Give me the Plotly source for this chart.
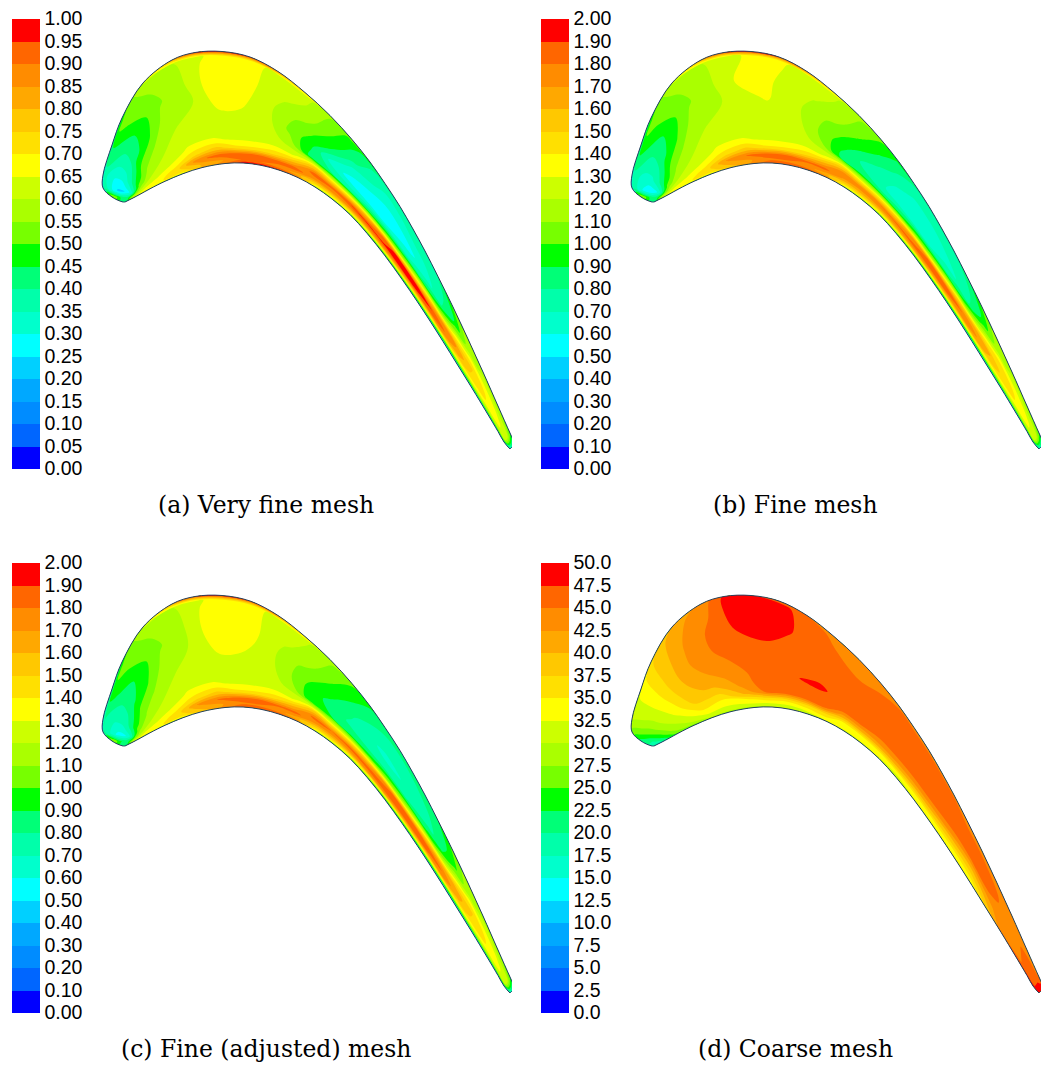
import plotly.graph_objects as go

# blade outline (points on each surface, per station)
UPPER_X = [123,112,103,103,112,122,143,172,195,222,250,278,305,330,352,370,385,400,413,425,438,453,468,483,498,510,515]
UPPER_Y = [202,197,188,175,145,118,83,60,52.5,51.5,57,71.5,92.5,115.5,139.5,162,183.5,206.5,229,251,276.5,307,339,372,406,433,444]
LOWER_X = [125,133,140,150,165,183,202,225,243,261,280,298,315,332,350,367,385,402,417,430,443,457,472,487,498,504,510]
LOWER_Y = [202,198,194.3,188.8,181.3,173.7,167.6,163.5,163,165.3,170.4,177.6,187,199,214.6,233.3,255.8,279.3,301.2,321,341.5,364,388.2,413,431.5,442,449]
# fractions across the passage, pressure side (0) to suction side (1)
ACROSS = [0,.03,.08,.14,.22,.32,.45,.6,.75,.96,1]

COLORS = ["#0000FF","#0066FF","#008CFF","#00A8FF","#00D0FF","#00FFFF","#00FFCC","#00FFAA","#00FF77","#00FF00",
          "#77FF00","#AAFF00","#CCFF00","#FFFF00","#FFE000","#FFC800","#FFA800","#FF8C00","#FF6600","#FF0000"]

VALUES_A = [
 [.4]*11,
 [.5,.6,.55,.5,.45,.42,.42,.45,.5,.55,.4],
 [.55,.66,.6,.5,.35,.28,.24,.24,.3,.4,.3],
 [.6,.7,.66,.6,.52,.44,.36,.3,.3,.37,.3],
 [.6,.7,.68,.64,.6,.56,.5,.42,.4,.46,.38],
 [.62,.72,.74,.68,.62,.6,.56,.48,.46,.53,.45],
 [.8,.8,.88,.74,.66,.62,.6,.58,.54,.56,.62],
 [.9,.85,.93,.78,.66,.62,.61,.6,.6,.6,.85],
 [.98,.9,.93,.72,.64,.62,.645,.67,.67,.64,.98],
 [.98,.9,.94,.72,.64,.62,.64,.67,.68,.68,1],
 [.96,.88,.92,.74,.65,.62,.62,.63,.65,.67,.98],
 [.9,.82,.93,.8,.63,.57,.54,.57,.61,.63,.9],
 [.6,.72,.85,.93,.75,.42,.47,.52,.58,.62,.75],
 [.55,.7,.85,.92,.7,.4,.33,.45,.5,.55,.6],
 [.5,.68,.85,.95,.72,.38,.28,.33,.42,.48,.55],
 [.45,.62,.85,.96,.8,.45,.27,.3,.36,.42,.5],
 [.4,.58,.85,.96,.92,.52,.3,.26,.32,.38,.45],
 [.36,.55,.8,.96,.98,.58,.33,.27,.32,.38,.42],
 [.33,.5,.75,.94,1,.68,.38,.3,.34,.38,.42],
 [.3,.46,.7,.9,.96,.78,.45,.33,.35,.38,.42],
 [.28,.42,.64,.85,.92,.85,.55,.38,.38,.4,.44],
 [.28,.4,.6,.72,.82,.86,.72,.55,.45,.5,.52],
 [.28,.4,.58,.66,.72,.75,.76,.68,.58,.58,.55],
 [.28,.38,.55,.62,.67,.7,.7,.68,.62,.58,.5],
 [.3,.38,.52,.6,.64,.66,.66,.64,.6,.56,.48],
 [.3,.35,.45,.55,.6,.62,.62,.6,.55,.5,.45],
 [.35]*11,
]
VALUES_B = [
 [.8]*11,
 [1.0,1.2,1.1,1.0,.9,.85,.85,.9,1.0,1.1,.8],
 [1.1,1.32,1.2,1.0,.74,.6,.52,.52,.62,.8,.6],
 [1.2,1.4,1.32,1.2,1.06,.9,.76,.66,.66,.76,.6],
 [1.2,1.4,1.36,1.28,1.2,1.12,1.0,.86,.82,.96,.8],
 [1.24,1.44,1.46,1.36,1.24,1.2,1.12,.98,.92,1.06,.9],
 [1.5,1.6,1.7,1.46,1.32,1.24,1.2,1.16,1.08,1.12,1.24],
 [1.75,1.7,1.82,1.54,1.32,1.24,1.22,1.2,1.2,1.2,1.7],
 [1.9,1.78,1.84,1.44,1.28,1.24,1.25,1.28,1.31,1.26,1.9],
 [1.9,1.78,1.86,1.44,1.28,1.24,1.26,1.31,1.33,1.33,2],
 [1.86,1.74,1.82,1.48,1.3,1.24,1.24,1.25,1.27,1.32,1.92],
 [1.76,1.62,1.84,1.6,1.26,1.15,1.1,1.14,1.21,1.25,1.8],
 [1.2,1.44,1.68,1.8,1.46,.86,.95,1.05,1.16,1.22,1.5],
 [1.1,1.4,1.66,1.76,1.36,.84,.8,.92,1.02,1.12,1.2],
 [1.0,1.34,1.66,1.8,1.4,.82,.72,.78,.88,1.0,1.1],
 [.9,1.26,1.66,1.82,1.52,.9,.66,.68,.76,.88,1.0],
 [.8,1.16,1.66,1.84,1.72,1.04,.66,.62,.68,.8,.9],
 [.72,1.1,1.58,1.84,1.82,1.14,.7,.62,.68,.78,.84],
 [.66,1,1.5,1.8,1.86,1.32,.78,.66,.7,.78,.84],
 [.6,.92,1.4,1.74,1.82,1.5,.9,.7,.72,.78,.84],
 [.56,.84,1.28,1.66,1.76,1.62,1.1,.78,.78,.82,.88],
 [.56,.8,1.2,1.44,1.62,1.66,1.4,1.1,.92,1,1.04],
 [.56,.8,1.16,1.32,1.44,1.5,1.5,1.36,1.16,1.16,1.1],
 [.56,.76,1.1,1.24,1.34,1.4,1.4,1.36,1.24,1.16,1],
 [.6,.76,1.04,1.2,1.28,1.32,1.32,1.28,1.2,1.12,.96],
 [.6,.7,.9,1.1,1.2,1.24,1.24,1.2,1.1,1,.9],
 [.7]*11,
]
VALUES_C = [
 [.8]*11,
 [1.0,1.2,1.1,1.0,.9,.88,.88,.92,1.0,1.1,.8],
 [1.1,1.32,1.2,1.02,.78,.64,.56,.56,.66,.82,.6],
 [1.2,1.4,1.32,1.2,1.08,.94,.8,.7,.7,.8,.6],
 [1.2,1.4,1.36,1.28,1.2,1.12,1.02,.88,.84,.96,.8],
 [1.24,1.44,1.46,1.36,1.24,1.2,1.12,.98,.92,1.06,.9],
 [1.5,1.6,1.7,1.46,1.32,1.24,1.2,1.16,1.08,1.12,1.24],
 [1.75,1.7,1.82,1.54,1.32,1.24,1.22,1.21,1.2,1.2,1.7],
 [1.9,1.78,1.84,1.44,1.28,1.24,1.29,1.34,1.34,1.28,1.9],
 [1.9,1.78,1.86,1.44,1.28,1.25,1.28,1.34,1.36,1.36,2],
 [1.86,1.74,1.82,1.48,1.3,1.24,1.25,1.28,1.31,1.34,1.92],
 [1.76,1.62,1.84,1.6,1.26,1.16,1.12,1.15,1.22,1.26,1.8],
 [1.2,1.44,1.68,1.84,1.5,.9,.96,1.05,1.16,1.22,1.5],
 [1.1,1.4,1.66,1.8,1.4,.9,.86,.94,1.02,1.12,1.2],
 [1.0,1.34,1.68,1.84,1.44,.88,.78,.82,.9,1.0,1.1],
 [.9,1.26,1.7,1.86,1.56,.94,.72,.72,.8,.9,1.0],
 [.8,1.16,1.7,1.88,1.76,1.08,.74,.68,.74,.84,.92],
 [.72,1.1,1.6,1.88,1.86,1.18,.78,.7,.74,.82,.88],
 [.66,1,1.52,1.84,1.9,1.36,.84,.72,.76,.82,.88],
 [.6,.92,1.42,1.78,1.86,1.54,.94,.76,.78,.84,.88],
 [.56,.84,1.3,1.7,1.8,1.66,1.14,.84,.84,.88,.92],
 [.56,.8,1.2,1.46,1.64,1.68,1.44,1.14,.96,1.02,1.04],
 [.56,.8,1.16,1.32,1.44,1.5,1.52,1.38,1.18,1.16,1.1],
 [.56,.76,1.1,1.24,1.34,1.4,1.4,1.36,1.24,1.16,1],
 [.6,.76,1.04,1.2,1.28,1.32,1.32,1.28,1.2,1.12,.96],
 [.6,.7,.9,1.1,1.2,1.24,1.24,1.2,1.1,1,.9],
 [.7]*11,
]
VALUES_D = [
 [19]*11,
 [19,19,19,19,19.5,20,20,20.5,21,21.5,22],
 [21,22,22.5,23,23.5,24,24.5,25,25.5,26,27],
 [25,26,27,27.5,28,28.5,29,29,29.5,30,30],
 [26,28,30,31,32,33,33.5,34,34,33.5,32],
 [29,31,33,35,37,38.5,39,39,38.5,37.5,36],
 [29,31,33,35,38,41,42.5,43.5,43,41.5,40],
 [29,32,35,41,43.5,44,45,46,46,44,43.5],
 [30,32,37,45.5,46,46,46.5,47,48,48.5,48],
 [30,32,36,45.5,46,46.5,47,47.5,49,49,48],
 [31,33,37,45.5,46,47.5,46.5,46.5,48,48.5,46],
 [32,34,38,46,46,48,46.5,46.5,46,46,45],
 [32,33,33.5,40,46,46.5,46,46,45.5,44.5,44],
 [32,33,33.5,40,45,46,46,46,45,44,43.5],
 [32,33,34,39.5,44,46,46,46,45.5,44.5,43],
 [32,32,34,39,43,46,46,46,46,45,43],
 [32,33,34,38,42,45.5,46,46,46,45,43],
 [32,33,34,38,41.5,45,46,46,46,45,43],
 [32,33,34.5,37,40,44.5,46,46,46,45,43],
 [33,33.5,34,36.5,39,42.5,46,46.5,46,45,43],
 [33,34,35,36.5,38.5,41,45.5,46.5,46,44.5,43],
 [38,38,39,40,41,43,46,46.5,46,44.5,43],
 [48,44,44,44,44,44,44,45,45,44,43],
 [49,47,45,44,44,44,44,44,44,44,43.5],
 [49,48,46.5,46,46,46,46,46,45,44,43],
 [50,49,48,47,47,47,47,47,46,45,45],
 [50]*11,
]

MAX_A, MAX_B, MAX_C, MAX_D = 1.0, 2.0, 2.0, 50.0
TICKS_A = [f"{i*0.05:.2f}" for i in range(21)]
TICKS_B = [f"{i*0.10:.2f}" for i in range(21)]
TICKS_C = [f"{i*0.10:.2f}" for i in range(21)]
TICKS_D = [f"{i*2.5:.1f}" for i in range(21)]
CAPTIONS = ["(a) Very fine mesh", "(b) Fine mesh", "(c) Fine (adjusted) mesh", "(d) Coarse mesh"]

W, H = 1041, 1065
panels = [
    (VALUES_A, MAX_A, TICKS_A, CAPTIONS[0], 0, 0),
    (VALUES_B, MAX_B, TICKS_B, CAPTIONS[1], 529, 0),
    (VALUES_C, MAX_C, TICKS_C, CAPTIONS[2], 0, 544),
    (VALUES_D, MAX_D, TICKS_D, CAPTIONS[3], 529, 544),
]

xs = [[l + (u - l) * f for l, u in zip(LOWER_X, UPPER_X)] for f in ACROSS]
ys = [[l + (u - l) * f for l, u in zip(LOWER_Y, UPPER_Y)] for f in ACROSS]
stations = list(range(len(UPPER_X)))

scale = []
for i, c in enumerate(COLORS):
    scale += [[i / 20, c], [(i + 1) / 20, c]]

fig = go.Figure()
layout = dict(width=W, height=H, margin=dict(l=0, r=0, t=0, b=0), paper_bgcolor="white",
              plot_bgcolor="white", showlegend=False, annotations=[])
PW, PH = 512, 520
for n, (vals, vmax, ticks, cap, ox, oy) in enumerate(panels, start=1):
    xa, ya = ("x", "y") if n == 1 else (f"x{n}", f"y{n}")
    xkey, ykey = ("xaxis", "yaxis") if n == 1 else (f"xaxis{n}", f"yaxis{n}")
    layout[xkey] = dict(domain=[ox / W, min(1, (ox + PW) / W)], range=[0, PW], visible=False, fixedrange=True)
    layout[ykey] = dict(domain=[1 - (oy + PH) / H, 1 - oy / H], range=[PH, 0], visible=False, fixedrange=True)
    step = vmax / 20
    cid = f"blade{n}"
    hidden = dict(showgrid=False, showticklabels="none", startline=True, endline=True,
                  linecolor="#555", linewidth=0.8, minorgridcount=0, smoothing=1)
    fig.add_trace(go.Contourcarpet(
        a=stations, b=ACROSS,
        z=[[row[j] for row in vals] for j in range(len(ACROSS))],
        carpet=cid, xaxis=xa, yaxis=ya, autocontour=False,
        contours=dict(start=step, end=vmax - step, size=step, coloring="fill"),
        line=dict(width=0), zmin=0, zmax=vmax, colorscale=scale,
        colorbar=dict(x=(ox + 12) / W, xanchor="left", y=1 - (oy + 18.5) / H, yanchor="top",
                      lenmode="pixels", len=450, thickness=28, xpad=0, ypad=0, outlinewidth=0,
                      tickmode="array", tickvals=[i * step for i in range(21)], ticktext=ticks,
                      ticks="", ticklen=0,
                      tickfont=dict(family="Liberation Sans", size=19.5, color="black")),
    ))
    fig.add_trace(go.Carpet(a=stations, b=ACROSS, x=xs, y=ys, carpet=cid, xaxis=xa, yaxis=ya,
                            aaxis=dict(hidden), baxis=dict(hidden)))
    layout["annotations"].append(dict(
        text=cap, xref="paper", yref="paper", x=(ox + 266) / W, y=1 - (oy + 505) / H,
        xanchor="center", yanchor="middle", showarrow=False,
        font=dict(family="DejaVu Serif", size=23.5, color="black")))
fig.update_layout(**layout)
fig.write_html("out.html", config=dict(displayModeBar=False),
               post_script="document.body.style.margin='0';")
